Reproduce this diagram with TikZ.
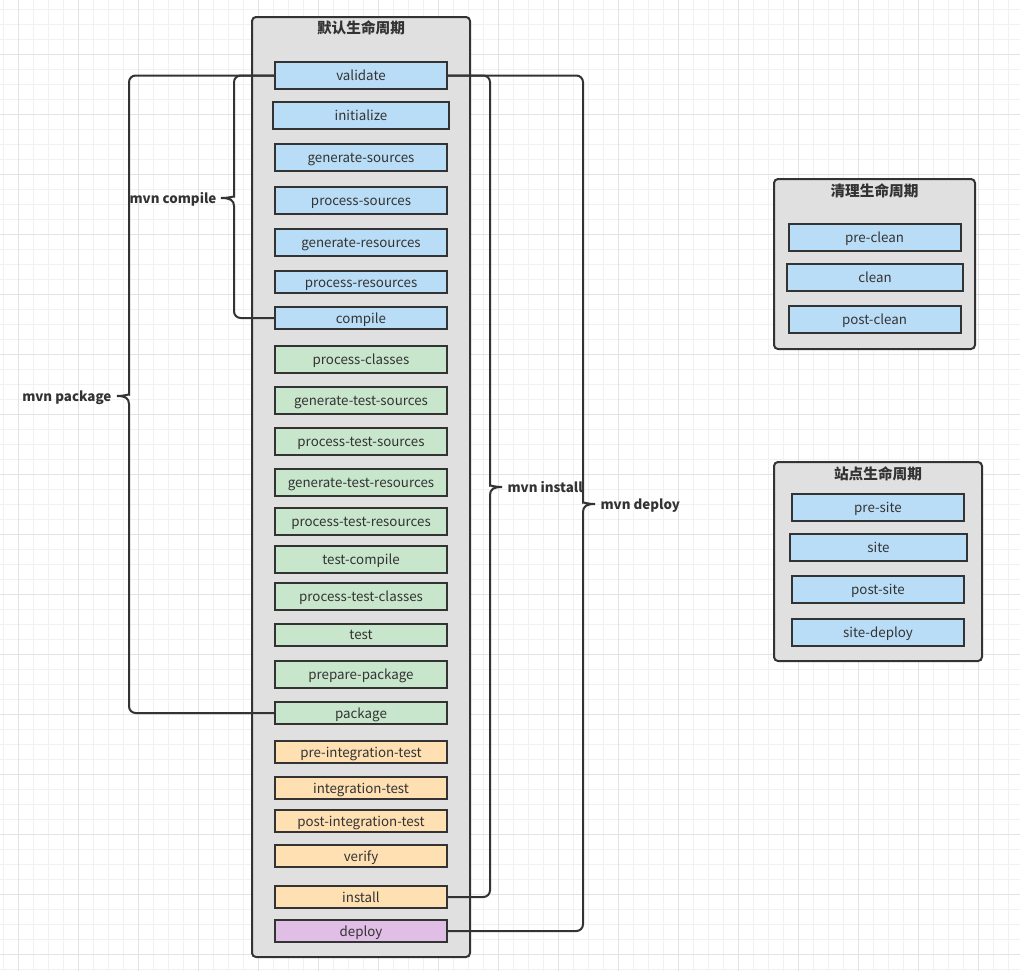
\documentclass[tikz,border=0pt]{standalone}
\usepackage{fontspec}
\setmainfont{Noto Sans CJK SC}
\definecolor{ink}{HTML}{333333}
\definecolor{panel}{HTML}{E0E0E0}
\definecolor{phaseblue}{HTML}{BADDF7}
\definecolor{phasegreen}{HTML}{C8E6CB}
\definecolor{phaseorange}{HTML}{FFE0B3}
\definecolor{phasepurple}{HTML}{E1BEE6}
\definecolor{gridminor}{HTML}{F1F1F1}
\definecolor{gridmajor}{HTML}{E3E3E3}
\begin{document}
\begin{tikzpicture}[x=0.75pt, y=-0.75pt,
    every node/.style={text=ink, font=\fontsize{10}{12}\selectfont},
    phase/.style={draw=ink, line width=1.5pt, minimum width=129pt, minimum height=20.25pt, inner sep=0pt,
      text height=9pt, text depth=1pt},
    low/.style={minimum height=16.5pt},
    lifecycle/.style={draw=ink, fill=panel, line width=1.5pt, rounded corners=3pt, inner sep=0pt},
    title/.style={font=\fontsize{11}{13}\selectfont\bfseries},
    cmd/.style={font=\fontsize{10}{12}\selectfont\bfseries, inner sep=1pt, text height=9pt, text depth=1pt},
    brace/.style={draw=ink, line width=1.5pt}]
  \useasboundingbox (0,0) rectangle (1020,971);
  \fill[white] (0,0) rectangle (1020,971);
  % grid
  \foreach \x in {3,18,...,1020} \draw[gridminor, line width=0.75pt] (\x,0) -- (\x,971);
  \foreach \y in {9,24,...,971} \draw[gridminor, line width=0.75pt] (0,\y) -- (1020,\y);
  \foreach \x in {18,78,...,1020} \draw[gridmajor, line width=0.75pt] (\x,0) -- (\x,971);
  \foreach \y in {54,114,...,971} \draw[gridmajor, line width=0.75pt] (0,\y) -- (1020,\y);

  % default lifecycle
  \node [lifecycle, minimum width=163.5pt, minimum height=705pt] (default) at (361,487) {};
  \node [title] (defaulttitle) at (361,28) {默认生命周期};
  \node [phase, fill=phaseblue] (validate) at (361,75.5) {validate};
  \node [phase, fill=phaseblue, minimum width=132pt] (initialize) at (361,115) {initialize};
  \node [phase, fill=phaseblue] (gensrc) at (361,157.5) {generate-sources};
  \node [phase, fill=phaseblue] (procsrc) at (361,200.5) {process-sources};
  \node [phase, fill=phaseblue] (genres) at (361,242.5) {generate-resources};
  \node [phase, low, fill=phaseblue] (procres) at (361,282) {process-resources};
  \node [phase, low, fill=phaseblue] (compile) at (361,318) {compile};
  \node [phase, fill=phasegreen] (procclasses) at (361,359.5) {process-classes};
  \node [phase, fill=phasegreen] (gentestsrc) at (361,400.5) {generate-test-sources};
  \node [phase, fill=phasegreen] (proctestsrc) at (361,441.5) {process-test-sources};
  \node [phase, fill=phasegreen] (gentestres) at (361,482.5) {generate-test-resources};
  \node [phase, fill=phasegreen] (proctestres) at (361,521.5) {process-test-resources};
  \node [phase, fill=phasegreen] (testcompile) at (361,559.5) {test-compile};
  \node [phase, fill=phasegreen] (proctestclasses) at (361,596.5) {process-test-classes};
  \node [phase, low, fill=phasegreen] (test) at (361,634.5) {test};
  \node [phase, fill=phasegreen] (preppackage) at (361,674.5) {prepare-package};
  \node [phase, low, fill=phasegreen] (package) at (361,713) {package};
  \node [phase, low, fill=phaseorange] (preinttest) at (361,752) {pre-integration-test};
  \node [phase, low, fill=phaseorange] (inttest) at (361,788) {integration-test};
  \node [phase, low, fill=phaseorange] (postinttest) at (361,821) {post-integration-test};
  \node [phase, low, fill=phaseorange] (verify) at (361,856) {verify};
  \node [phase, low, fill=phaseorange] (install) at (361,897) {install};
  \node [phase, low, fill=phasepurple] (deploy) at (361,931) {deploy};

  % clean lifecycle
  \node [lifecycle, minimum width=150.75pt, minimum height=127.5pt] (clean) at (874.5,264) {};
  \node [title] (cleantitle) at (874.5,191) {清理生命周期};
  \node [phase, fill=phaseblue] (preclean) at (874.5,237) {pre-clean};
  \node [phase, fill=phaseblue, minimum width=132pt] (cleanphase) at (875,277) {clean};
  \node [phase, fill=phaseblue] (postclean) at (874.5,319) {post-clean};

  % site lifecycle
  \node [lifecycle, minimum width=156pt, minimum height=149.25pt] (site) at (878,561.5) {};
  \node [title] (sitetitle) at (878,474) {站点生命周期};
  \node [phase, fill=phaseblue] (presite) at (878,507) {pre-site};
  \node [phase, fill=phaseblue, minimum width=132.75pt] (sitephase) at (878.5,547.5) {site};
  \node [phase, fill=phaseblue] (postsite) at (878,589.5) {post-site};
  \node [phase, fill=phaseblue] (sitedeploy) at (878,632) {site-deploy};

  % commands
  \draw [brace] (validate.west) [rounded corners=5pt] -- (129,75.5) -- (129,388) [sharp corners]
    .. controls (129,394) and (125,396) .. (117,396)
    .. controls (125,396) and (129,398) .. (129,404) [rounded corners=5pt] -- (129,713) -- (package.west);
  \draw [brace] (validate.west) [rounded corners=5pt] -- (234,75.5) -- (234,190) [sharp corners]
    .. controls (234,196) and (230,198) .. (221,198)
    .. controls (230,198) and (234,200) .. (234,206) [rounded corners=5pt] -- (234,318) -- (compile.west);
  \draw [brace] (validate.east) [rounded corners=5pt] -- (490,75.5) -- (490,479) [sharp corners]
    .. controls (490,485) and (494,487) .. (502,487)
    .. controls (494,487) and (490,489) .. (490,495) [rounded corners=5pt] -- (490,897) -- (install.east);
  \draw [brace] (validate.east) [rounded corners=5pt] -- (583,75.5) -- (583,496) [sharp corners]
    .. controls (583,502) and (587,504) .. (595,504)
    .. controls (587,504) and (583,506) .. (583,512) [rounded corners=5pt] -- (583,931) -- (deploy.east);
  \node [cmd, anchor=east] (mvnpackage) at (113,396) {mvn package};
  \node [cmd, anchor=east] (mvncompile) at (218,198) {mvn compile};
  \node [cmd, anchor=west] (mvninstall) at (506,487) {mvn install};
  \node [cmd, anchor=west] (mvndeploy) at (599,504) {mvn deploy};
\end{tikzpicture}
\end{document}
